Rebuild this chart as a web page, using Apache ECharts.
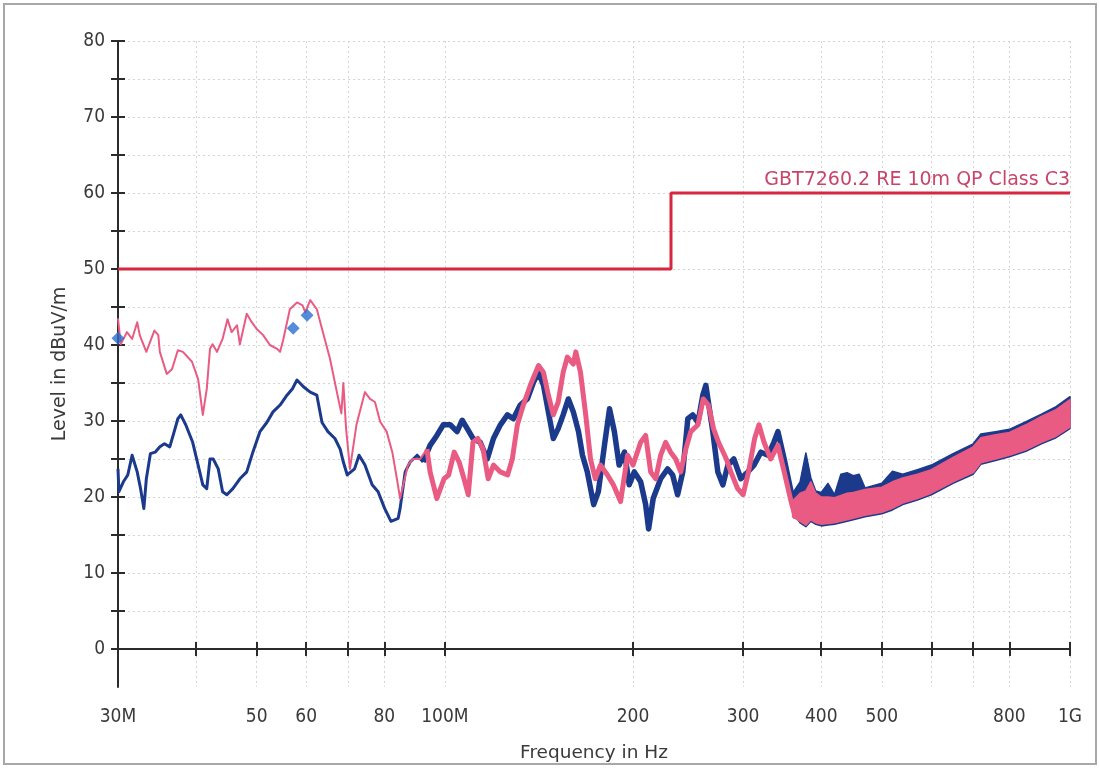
<!DOCTYPE html>
<html>
<head>
<meta charset="utf-8">
<title>Radiated emission scan</title>
<script src="https://cdn.jsdelivr.net/npm/echarts@6/dist/echarts.min.js"></script>
<style>
  html, body { margin: 0; padding: 0; background: #fff; }
  #chart { width: 1100px; height: 768px; }
</style>
</head>
<body>
<div id="chart"></div>
<script>
// Frequencies in MHz, levels in dBuV/m.

// Limit line (GB/T 7260.2, 10 m, quasi-peak, class C3)
const limitFreq = [30, 230, 230, 1000];
const limitLevel = [50, 50, 60, 60];
const limitName = 'GBT7260.2 RE 10m QP Class C3';

// Quasi-peak measurement points
const qpFreq = [30, 57.2, 60.2];
const qpLevel = [40.9, 42.2, 43.9];

// Horizontal polarisation trace (pink), 30 - 94 MHz
const pinkLowFreq = [30, 30.3, 31.0, 31.6, 32.2, 32.5, 33.3, 34.3, 34.8, 35.0, 35.9, 36.6, 37.4, 38.1, 39.4, 40.3, 41.0, 41.6, 42.1, 42.5, 43.2, 44.1, 44.9, 45.6, 46.5, 47.0, 48.2, 49.1, 50.0, 51.2, 52.5, 53.9, 54.5, 55.1, 56.5, 58.0, 59.2, 59.8, 60.9, 62.4, 63.8, 65.5, 67.3, 68.3, 68.8, 69.5, 70.5, 72.2, 74.5, 75.9, 77.3, 78.8, 80.7, 82.4, 83.8, 84.8, 85.8, 87.3, 88.9, 91.3, 93.6];
const pinkLowLevel = [43.5, 40.1, 41.7, 40.8, 43.0, 41.3, 39.1, 41.9, 41.3, 39.1, 36.2, 36.8, 39.3, 39.1, 37.8, 35.5, 30.8, 34.2, 39.5, 40.1, 39.1, 40.8, 43.4, 41.7, 42.6, 40.1, 44.1, 43.0, 42.1, 41.3, 40.0, 39.5, 39.1, 40.6, 44.7, 45.6, 45.2, 44.3, 45.9, 44.7, 41.7, 38.2, 33.5, 31.0, 35.0, 29.0, 23.7, 29.5, 33.8, 32.9, 32.5, 29.9, 28.6, 25.9, 22.4, 19.8, 21.6, 24.2, 25.0, 25.0, 26.3];

// Horizontal polarisation trace (pink), 94 - 365 MHz
const pinkMidFreq = [93.6, 94.7, 97.1, 99.7, 101.4, 103.5, 105.4, 107.3, 109.0, 110.9, 112.9, 115.1, 117.3, 119.6, 122.7, 126.0, 128.2, 130.6, 133.5, 137.0, 141.2, 143.8, 146.4, 149.1, 151.8, 154.6, 157.0, 160.5, 162.0, 164.8, 168.0, 171.0, 174.0, 177.4, 182.0, 186.0, 191.0, 196.0, 200.0, 205.7, 209.5, 213.4, 217.4, 221.4, 225.5, 229.7, 234.0, 238.4, 242.9, 247.4, 254.0, 259.0, 264.0, 269.0, 274.0, 282.0, 286.7, 294.0, 300.0, 306.0, 313.0, 318.0, 324.0, 332.0, 341.0, 349.0, 358.0, 364.0];
const pinkMidLevel = [26.3, 23.3, 19.8, 22.4, 22.9, 25.9, 24.6, 22.4, 20.3, 27.2, 27.7, 26.3, 22.4, 24.2, 23.3, 22.9, 25.0, 29.5, 32.1, 34.7, 37.3, 36.4, 33.4, 30.8, 32.5, 36.4, 38.4, 37.5, 39.1, 36.4, 30.8, 25.0, 22.4, 24.2, 22.9, 21.6, 19.4, 25.5, 24.2, 27.2, 28.1, 23.3, 22.4, 25.5, 27.2, 25.9, 25.0, 23.3, 26.3, 28.6, 29.5, 32.9, 32.1, 29.0, 27.2, 25.0, 23.3, 21.1, 20.3, 23.3, 27.7, 29.5, 27.2, 25.0, 26.8, 23.3, 19.4, 17.2];

// Vertical polarisation trace (blue), 30 - 92 MHz
const blueLowFreq = [30, 30.1, 30.6, 31.1, 31.6, 32.2, 32.6, 33.0, 33.3, 33.8, 34.4, 35.0, 35.6, 36.3, 36.9, 37.4, 37.8, 38.5, 39.5, 40.3, 41.0, 41.6, 42.1, 42.6, 43.4, 44.1, 44.8, 45.8, 47.0, 48.2, 49.3, 50.6, 51.9, 53.1, 54.5, 55.9, 57.0, 58.0, 59.4, 60.9, 62.4, 63.6, 65.0, 66.7, 68.0, 68.8, 69.8, 71.7, 72.9, 74.5, 76.5, 78.2, 80.1, 82.0, 84.2, 84.8, 86.4, 88.0, 90.3, 92.3];
const blueLowLevel = [23.7, 20.7, 22.0, 22.9, 25.5, 23.3, 21.1, 18.5, 22.4, 25.7, 25.9, 26.6, 27.0, 26.6, 28.6, 30.3, 30.8, 29.5, 27.2, 24.2, 21.6, 21.1, 25.0, 25.0, 23.7, 20.7, 20.3, 21.1, 22.4, 23.3, 25.9, 28.6, 29.8, 31.2, 32.1, 33.4, 34.2, 35.4, 34.5, 33.8, 33.4, 29.8, 28.6, 27.7, 26.3, 24.6, 22.9, 23.7, 25.5, 24.2, 21.6, 20.7, 18.5, 16.8, 17.2, 18.5, 23.3, 24.6, 25.5, 24.6];

// Vertical polarisation trace (blue), 92 - 370 MHz
const blueMidFreq = [92.3, 94.7, 97.1, 99.4, 102.0, 104.6, 106.6, 108.6, 110.9, 113.9, 116.9, 119.6, 122.7, 125.9, 128.7, 132.0, 135.5, 138.6, 141.2, 143.8, 146.4, 149.1, 151.8, 154.6, 157.6, 160.5, 163.6, 166.0, 169.0, 173.0, 176.0, 180.0, 183.4, 186.7, 190.0, 193.8, 197.2, 200.9, 205.7, 209.5, 211.8, 215.4, 221.4, 227.2, 231.4, 235.7, 240.2, 244.7, 249.2, 254.0, 258.6, 261.5, 264.4, 268.3, 273.3, 278.4, 283.6, 289.9, 297.5, 305.3, 312.2, 320.3, 328.8, 336.0, 341.0, 349.0, 357.9, 364.0, 370.0];
const blueMidLevel = [24.6, 26.8, 28.1, 29.5, 29.5, 28.6, 30.1, 29.0, 27.7, 27.2, 25.0, 27.7, 29.5, 30.8, 30.3, 32.1, 32.9, 35.1, 36.4, 34.7, 31.2, 27.7, 29.0, 30.8, 32.9, 31.2, 28.6, 25.5, 23.3, 19.0, 20.7, 26.8, 31.6, 28.6, 24.2, 25.9, 21.6, 23.3, 22.0, 19.0, 15.8, 19.8, 22.4, 23.7, 22.9, 20.3, 23.3, 30.3, 30.8, 29.8, 33.4, 34.7, 32.1, 28.6, 23.3, 21.6, 24.2, 25.0, 22.4, 23.3, 24.2, 25.9, 25.5, 27.2, 28.6, 25.0, 20.7, 19.0, 21.0];

// Upper band (360 MHz - 1 GHz): lower / upper envelope of each noisy trace
const bandFreq = [360, 370, 378, 385, 392, 400, 410, 420, 430, 440, 450, 460, 470, 500, 520, 540, 570, 600, 650, 700, 720, 760, 800, 850, 900, 950, 1000];
const pinkBandLow = [17.4, 16.8, 16.3, 17.0, 16.6, 16.4, 16.5, 16.6, 16.8, 17.0, 17.2, 17.4, 17.6, 18.0, 18.5, 19.2, 19.8, 20.5, 22.0, 23.2, 24.5, 25.0, 25.5, 26.2, 27.2, 28.0, 29.2];
const pinkBandHigh = [19.5, 20.5, 20.8, 22.0, 20.5, 20.0, 20.0, 19.9, 20.2, 20.5, 20.6, 20.8, 21.0, 21.3, 22.0, 22.5, 23.0, 23.6, 25.2, 26.6, 27.8, 28.2, 28.5, 29.5, 30.6, 31.5, 32.8];
const blueBandLow = [18.0, 16.6, 16.1, 16.8, 16.4, 16.2, 16.3, 16.4, 16.6, 16.8, 17.0, 17.2, 17.4, 17.8, 18.3, 19.0, 19.6, 20.3, 21.8, 23.0, 24.3, 24.8, 25.3, 26.0, 27.0, 27.8, 29.0];
const blueBandHigh = [20.5, 22.0, 25.8, 22.5, 20.8, 20.6, 21.8, 20.3, 23.0, 23.2, 22.8, 23.0, 21.2, 21.8, 23.4, 23.0, 23.6, 24.2, 25.7, 27.0, 28.3, 28.6, 28.9, 29.9, 30.9, 31.9, 33.2];

// Axis ticks
const xTickValues = [30, 40, 50, 60, 70, 80, 100, 200, 300, 400, 500, 600, 700, 800, 1000];
const xLabelValues = [30, 50, 60, 80, 100, 200, 300, 400, 500, 800, 1000];
const xLabelText = { 30: '30M', 100: '100M', 1000: '1G' };
const yTickValues = [0, 5, 10, 15, 20, 25, 30, 35, 40, 45, 50, 55, 60, 65, 70, 75, 80];
const yLabelValues = [0, 10, 20, 30, 40, 50, 60, 70, 80];
const yMin = -5, yMax = 80, yStep = 5;

const PINK = '#e95b82';
const BLUE = '#1b3a8c';
const LIMIT = '#d72640';
const MARK = '#2a6fd0';
const AXIS = '#2b2b2b';
const TEXT = '#3a3a3a';
const GRID = '#d4d4d4';
const TICK_FONT = '"DejaVu Sans Condensed", "DejaVu Sans", sans-serif';
const NAME_FONT = '"DejaVu Sans", sans-serif';

const pairs = (xs, ys) => xs.map((x, i) => [x, ys[i]]);

function traceSeries(name, xs, ys, color, width, z) {
  return {
    type: 'line', name, z, data: pairs(xs, ys),
    showSymbol: false, symbol: 'none', silent: true, animation: false,
    lineStyle: { color, width, join: 'round' }
  };
}

// Filled envelope between a lower and an upper level curve
function bandSeries(name, xs, lo, hi, color, z) {
  const data = xs.map((x, i) => [x, lo[i], hi[i]]);
  return {
    type: 'custom', name, z, silent: true, animation: false,
    data, encode: { x: 0, y: [1, 2] },
    renderItem(params, api) {
      if (params.dataIndex !== 0) return null;
      const top = data.map(d => api.coord([d[0], d[2]]));
      const bottom = data.map(d => api.coord([d[0], d[1]])).reverse();
      return {
        type: 'polygon',
        shape: { points: top.concat(bottom) },
        style: { fill: color, stroke: color, lineWidth: 1.5, lineJoin: 'round' }
      };
    }
  };
}

const xBase = { type: 'log', logBase: 10, min: 30, max: 1000, gridIndex: 0 };
const yBase = { type: 'value', min: yMin, max: yMax, interval: yStep, gridIndex: 0 };

const chart = echarts.init(document.getElementById('chart'), null, { renderer: 'canvas' });

chart.setOption({
  backgroundColor: '#ffffff',
  animation: false,
  grid: { left: 118, right: 30, top: 41, bottom: 81, containLabel: false },
  graphic: [{
    type: 'rect', silent: true,
    shape: { x: 4, y: 4, width: 1092, height: 760 },
    style: { fill: 'none', stroke: '#a8a8a8', lineWidth: 2 }
  }],
  xAxis: [
    Object.assign({}, xBase, {
      name: 'Frequency in Hz', nameLocation: 'middle', nameGap: 57,
      nameTextStyle: { fontFamily: NAME_FONT, fontSize: 18.5, color: TEXT },
      axisLine: { show: true, lineStyle: { color: AXIS, width: 2 } },
      axisTick: { show: true, length: 7, customValues: xTickValues, lineStyle: { color: AXIS, width: 2 } },
      axisLabel: {
        show: true, margin: 21, customValues: xLabelValues,
        fontFamily: TICK_FONT, fontSize: 19, color: TEXT,
        formatter: v => {
          const r = Math.round(v);
          return xLabelText[r] || String(r);
        }
      },
      splitLine: { show: true, lineStyle: { color: GRID, type: [2, 3], width: 1 } },
      minorTick: { show: false }
    }),
    Object.assign({}, xBase, {
      position: 'bottom',
      axisLine: { show: false },
      axisTick: { show: true, inside: true, length: 7, customValues: xTickValues, lineStyle: { color: AXIS, width: 2 } },
      axisLabel: { show: false },
      splitLine: { show: false }
    })
  ],
  yAxis: [
    Object.assign({}, yBase, {
      name: 'Level in dBuV/m', nameLocation: 'middle', nameGap: 48, nameRotate: 90,
      nameTextStyle: { fontFamily: NAME_FONT, fontSize: 19, color: TEXT },
      axisLine: { show: true, lineStyle: { color: AXIS, width: 2 } },
      axisTick: { show: true, length: 7, customValues: yTickValues, lineStyle: { color: AXIS, width: 2 } },
      axisLabel: {
        show: true, margin: 13, customValues: yLabelValues,
        fontFamily: TICK_FONT, fontSize: 19, color: TEXT
      },
      splitLine: { show: true, lineStyle: { color: GRID, type: [2, 3], width: 1 } }
    }),
    Object.assign({}, yBase, {
      position: 'left', offset: 0,
      axisLine: { show: false },
      axisTick: { show: true, inside: true, length: 7, customValues: yTickValues, lineStyle: { color: AXIS, width: 2 } },
      axisLabel: { show: false },
      splitLine: { show: false }
    })
  ],
  series: [
    bandSeries('Vertical band', bandFreq, blueBandLow, blueBandHigh, BLUE, 2),
    traceSeries('Vertical', blueLowFreq, blueLowLevel, BLUE, 3, 3),
    traceSeries('Vertical mid', blueMidFreq, blueMidLevel, BLUE, 5.5, 3),
    bandSeries('Horizontal band', bandFreq, pinkBandLow, pinkBandHigh, PINK, 4),
    traceSeries('Horizontal', pinkLowFreq, pinkLowLevel, PINK, 2, 5),
    traceSeries('Horizontal mid', pinkMidFreq, pinkMidLevel, PINK, 5, 5),
    {
      type: 'line', name: limitName, z: 6, silent: true, animation: false,
      showSymbol: false, symbol: 'none',
      lineStyle: { color: LIMIT, width: 3 },
      data: pairs(limitFreq, limitLevel),
      endLabel: {
        show: true, formatter: limitName, align: 'right', verticalAlign: 'bottom',
        distance: 0, offset: [0, -3],
        fontFamily: NAME_FONT, fontSize: 19, color: '#c8456a'
      }
    },
    {
      type: 'scatter', name: 'QP', z: 7, silent: true, animation: false,
      symbol: 'diamond', symbolSize: 13,
      itemStyle: { color: MARK },
      data: pairs(qpFreq, qpLevel)
    }
  ]
});
</script>
</body>
</html>
